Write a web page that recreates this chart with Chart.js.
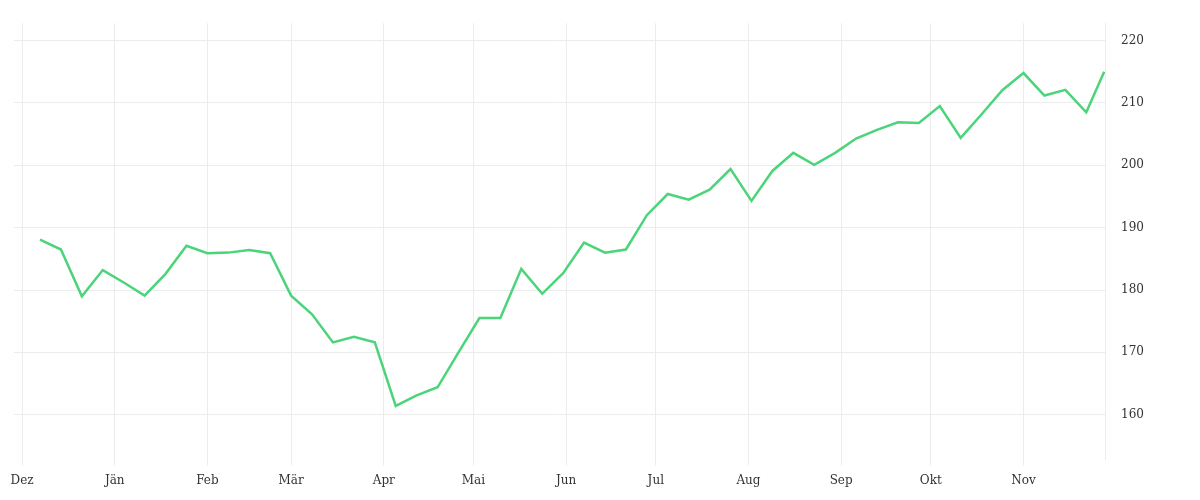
<!DOCTYPE html>
<html><head><meta charset="utf-8">
<script src="https://cdn.jsdelivr.net/npm/chart.js@4"></script>
<style>html,body{margin:0;background:#fff}#w{width:1200px;height:500px}</style>
</head><body><div id="w"><canvas id="c"></canvas></div>
<script>
const monthLabels=["Dez","Jän","Feb","Mär","Apr","Mai","Jun","Jul","Aug","Sep","Okt","Nov"];
const monthDays=[0,31,62,90,121,151,182,212,243,274,304,335];
const days=[6,13,20,27,34,41,48,55,62,69,76,83,90,97,104,111,118,125,132,139,146,153,160,167,174,181,188,195,202,209,216,223,230,237,244,251,258,265,272,279,286,293,300,307,314,321,328,335,342,349,356,362];
const values=[188.1,186.5,179,183.2,181.2,179.1,182.6,187.1,185.9,186,186.4,185.9,179.1,176.1,171.6,172.5,171.6,161.4,163.1,164.4,170,175.5,175.5,183.4,179.4,182.7,187.6,186,186.5,192,195.4,194.5,196.1,199.4,194.3,199.1,202,200.1,202,204.3,205.7,206.9,206.8,209.5,204.4,208.2,212.1,214.8,211.2,212.1,208.5,215];
const yTicks=[160,170,180,190,200,210,220];
const font={family:"DejaVu Serif",size:12};
new Chart(document.getElementById('c'),{type:'line',
data:{datasets:[{data:days.map((d,i)=>({x:d,y:values[i]})),borderColor:'#4cd47a',borderWidth:2.5,pointRadius:0,tension:0,fill:false}]},
options:{responsive:true,maintainAspectRatio:false,animation:false,
layout:{padding:{left:14,right:40,top:2,bottom:4}},
plugins:{legend:{display:false},tooltip:{enabled:false}},
scales:{
x:{type:'linear',min:-2.7,max:362.3,
afterBuildTicks:a=>{a.ticks=monthDays.map(v=>({value:v}));},
ticks:{font,color:'#333',callback:v=>monthLabels[monthDays.indexOf(v)],maxRotation:0,autoSkip:false,padding:8},
grid:{color:'#ececec',drawTicks:true,tickLength:6},border:{display:false}},
y:{position:'right',min:152.8,max:222.8,
afterBuildTicks:a=>{a.ticks=yTicks.map(v=>({value:v}));},
ticks:{font,color:'#333',padding:16},
grid:{color:'#ececec',drawTicks:false},border:{display:true,color:'#ececec'}}
}}});
</script></body></html>
